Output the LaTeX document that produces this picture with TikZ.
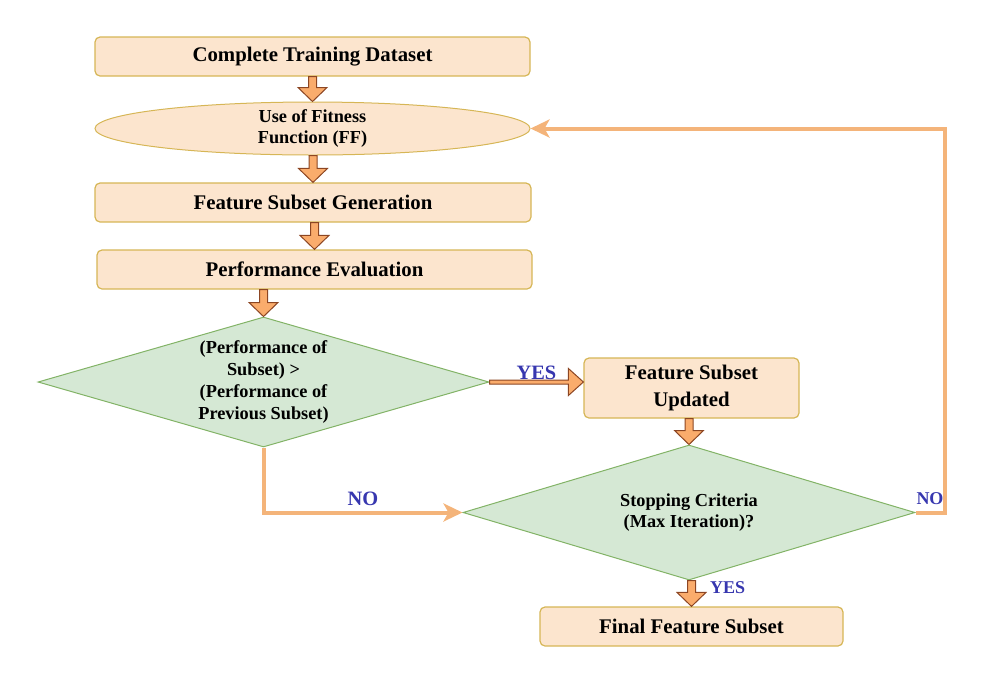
\documentclass[tikz,border=0pt]{standalone}
\usepackage{fontspec}
\setmainfont{Liberation Serif}
\usetikzlibrary{shapes.geometric, calc, arrows.meta}

\definecolor{boxfill}{RGB}{252,229,206}
\definecolor{boxedge}{RGB}{214,182,86}
\definecolor{decfill}{RGB}{213,232,212}
\definecolor{decedge}{RGB}{130,179,102}
\definecolor{blkfill}{RGB}{250,172,108}
\definecolor{blkedge}{RGB}{140,70,35}
\definecolor{loopcol}{RGB}{244,180,122}
\definecolor{lblblue}{RGB}{55,55,175}

\begin{document}
\begin{tikzpicture}[x=0.5pt, y=-0.5pt,
	stepbox/.style={draw=boxedge, fill=boxfill, rounded corners=2.5pt, line width=0.6pt, inner sep=0pt, align=center, font=\bfseries\fontsize{10.4}{13.5}\selectfont},
	ffshape/.style={ellipse, draw=boxedge, fill=boxfill, line width=0.5pt, inner sep=0pt},
	decision/.style={diamond, draw=decedge, fill=decfill, line width=0.5pt, inner sep=0pt},
	smalltext/.style={align=center, inner sep=0pt, font=\bfseries\fontsize{9.15}{10.9}\selectfont},
	lbl/.style={inner sep=0pt, text=lblblue, font=\bfseries\fontsize{10.2}{12}\selectfont},
	lblsmall/.style={lbl, font=\bfseries\fontsize{9}{11}\selectfont},
	loopline/.style={draw=loopcol, line width=2pt, -{Stealth[length=9.5pt, width=9pt, inset=2.5pt]}},
	blockdown/.style={draw=blkedge, fill=blkfill, line width=0.5pt,
		to path={let \p1=(\tikztostart), \p2=(\tikztotarget) in
			(\x2-2pt,\y1) -- (\x2-2pt,\y2+7pt) -- (\x2-7.25pt,\y2+7pt) -- (\x2,\y2)
			-- (\x2+7.25pt,\y2+7pt) -- (\x2+2pt,\y2+7pt) -- (\x2+2pt,\y1) -- cycle}},
	blockright/.style={draw=blkedge, fill=blkfill, line width=0.5pt,
		to path={let \p1=(\tikztostart), \p2=(\tikztotarget) in
			(\x1,\y1-1pt) -- (\x2-7.5pt,\y1-1pt) -- (\x2-7.5pt,\y1-6.75pt) -- (\x2,\y1)
			-- (\x2-7.5pt,\y1+6.75pt) -- (\x2-7.5pt,\y1+1pt) -- (\x1,\y1+1pt) -- cycle}}]
	\useasboundingbox (0,0) rectangle (982,676);

	% 1. 流程框 (左列)
	\node[stepbox, minimum width=217.5pt, minimum height=19.5pt] (dataset) at (312.5,56.5) {Complete Training Dataset};
	\node[ffshape, minimum width=217.5pt, minimum height=26.5pt,
		label={[smalltext]center:{Use of Fitness\\Function (FF)}}] (ff) at (312.5,128.5) {};
	\node[stepbox, minimum width=218pt, minimum height=19.5pt] (gen) at (313,202.5) {Feature Subset Generation};
	\node[stepbox, minimum width=217.5pt, minimum height=19.5pt] (eval) at (314.5,269.5) {Performance Evaluation};

	% 2. 判断菱形与右侧流程框
	\node[decision, minimum width=225.5pt, minimum height=65pt,
		label={[smalltext]center:{(Performance of\\Subset) >\\(Performance of\\Previous Subset)}}] (d1) at (263.5,382) {};
	\node[stepbox, minimum width=107.5pt, minimum height=30pt] (upd) at (691.5,388) {Feature Subset\\Updated};
	\node[decision, minimum width=226pt, minimum height=67.5pt,
		label={[smalltext]center:{Stopping Criteria\\(Max Iteration)?}}] (d2) at (689,512.5) {};
	\node[stepbox, minimum width=151.5pt, minimum height=19.5pt] (final) at (691.5,626.5) {Final Feature Subset};

	% 3. 块状箭头
	\draw[blockdown] (dataset.south) to (ff.north);
	\draw[blockdown] (ff.south) to (gen.north);
	\draw[blockdown] (gen.south) to (eval.north);
	\draw[blockdown] (eval.south) to (d1.north);
	\draw[blockdown] (upd.south) to (d2.north);
	\draw[blockdown] (d2.south) to (final.north);
	\draw[blockright] (d1.east) to (upd.west);

	% 4. 回路连线与 YES/NO 标签
	\draw[loopline] (d1.south) |- (d2.west);
	\draw[loopline] (d2.east) -- ++(29.5,0) |- (ff.east);
	\node[lbl, above=2.5pt] (yes1) at ($(d1.east)!0.5!(upd.west)$) {YES};
	\node[lbl, above=3pt] (no1) at ($(d1.south |- d2.west)!0.5!(d2.west)$) {NO};
	\node[lblsmall, above=3.5pt] (no2) at ($(d2.east)+(14.5,0)$) {NO};
	\node[lblsmall, right=10pt] (yes2) at ($(d2.south)!0.26!(final.north)$) {YES};
\end{tikzpicture}
\end{document}
